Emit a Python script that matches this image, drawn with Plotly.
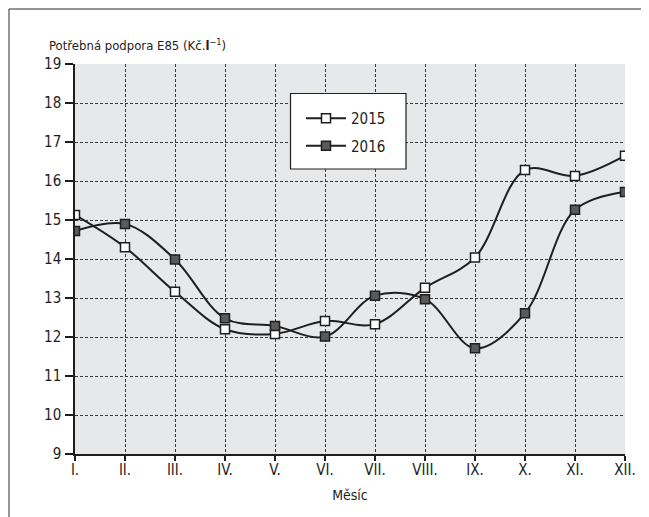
import plotly.graph_objects as go

months = ["I.", "II.", "III.", "IV.", "V.", "VI.", "VII.", "VIII.", "IX.", "X.", "XI.", "XII."]
y2015 = [15.13, 14.30, 13.16, 12.20, 12.08, 12.41, 12.33, 13.26, 14.04, 16.28, 16.13, 16.65]
y2016 = [14.72, 14.90, 13.99, 12.48, 12.28, 12.01, 13.06, 12.97, 11.71, 12.61, 15.26, 15.72]
yticks = list(range(9, 20))

FONT = "DejaVu Sans Condensed, Liberation Sans Narrow, Arial Narrow, sans-serif"
W, H = 649, 517
OFF = 8  # page body margin
L, R, T, B = 67, 32, 56, 71
pw, ph = W - L - R, H - T - B

def px_x(x):
    # screen x -> paper
    return (x - OFF - L) / pw

def px_y(y):
    return (H - B - (y - OFF)) / ph

fig = go.Figure()
fig.add_trace(go.Scatter(
    x=months, y=y2015, name="2015", mode="lines+markers", legendgroup="a",
    line=dict(color="#1e1e1e", width=2, shape="spline", smoothing=1.0),
    marker=dict(symbol="square", size=9, color="white", line=dict(color="#1e1e1e", width=1.5)),
))
fig.add_trace(go.Scatter(
    x=months, y=y2016, name="2016", mode="lines+markers", legendgroup="b",
    line=dict(color="#1e1e1e", width=2, shape="spline", smoothing=1.0),
    marker=dict(symbol="square", size=9, color="#5a5a5a", line=dict(color="#1e1e1e", width=1.5)),
))

fig.update_layout(
    width=W, height=H,
    margin=dict(l=L, r=R, t=T, b=B, pad=0),
    paper_bgcolor="white", plot_bgcolor="#e7e8ea",
    font=dict(family=FONT, size=15, color="#1e1e1e"),
    showlegend=True,
    legend=dict(
        x=px_x(301), y=px_y(102), xanchor="left", yanchor="top",
        bgcolor="rgba(0,0,0,0)", borderwidth=0,
        font=dict(family=FONT, size=15, color="#1e1e1e"),
        tracegroupgap=5, itemwidth=40,
    ),
    xaxis=dict(
        type="category", categoryorder="array", categoryarray=months,
        range=[0, len(months) - 1],
        showgrid=True, gridcolor="#3a3a3a", griddash="3px,2px", gridwidth=1,
        showline=True, linecolor="#1e1e1e", linewidth=1.5,
        ticks="outside", ticklen=5, tickcolor="#1e1e1e", tickwidth=1.5,
        tickfont=dict(family=FONT, size=15, color="#1e1e1e"),
        ticklabelstandoff=-4,
        title=dict(text="Měsíc", font=dict(family=FONT, size=14, color="#1e1e1e"), standoff=12),
        zeroline=False, fixedrange=True,
    ),
    yaxis=dict(
        range=[9, 19], tickvals=yticks,
        showgrid=True, gridcolor="#3a3a3a", griddash="3px,2px", gridwidth=1,
        showline=True, linecolor="#1e1e1e", linewidth=1.5,
        ticks="outside", ticklen=8, tickcolor="#1e1e1e", tickwidth=1.5,
        tickfont=dict(family=FONT, size=15, color="#1e1e1e"),
        ticklabelstandoff=1,
        zeroline=False, fixedrange=True,
    ),
    shapes=[
        dict(type="rect", xref="paper", yref="paper",
             x0=px_x(9), x1=px_x(665), y0=px_y(540), y1=px_y(9),
             line=dict(color="#2a2a2a", width=1), fillcolor="rgba(0,0,0,0)", layer="below"),
        dict(type="rect", xref="paper", yref="paper",
             x0=px_x(290.5), x1=px_x(406), y0=px_y(169), y1=px_y(93.5),
             line=dict(color="#1e1e1e", width=1.2), fillcolor="white", layer="above"),
    ],
    annotations=[
        dict(text="Potřebná podpora E85 (Kč.<b>l</b><sup>−1</sup>)", xref="paper", yref="paper",
             x=px_x(47), y=px_y(45), xanchor="left", yanchor="middle", showarrow=False,
             font=dict(family=FONT, size=13, color="#1e1e1e")),
    ],
)

fig.write_html("out.html")
